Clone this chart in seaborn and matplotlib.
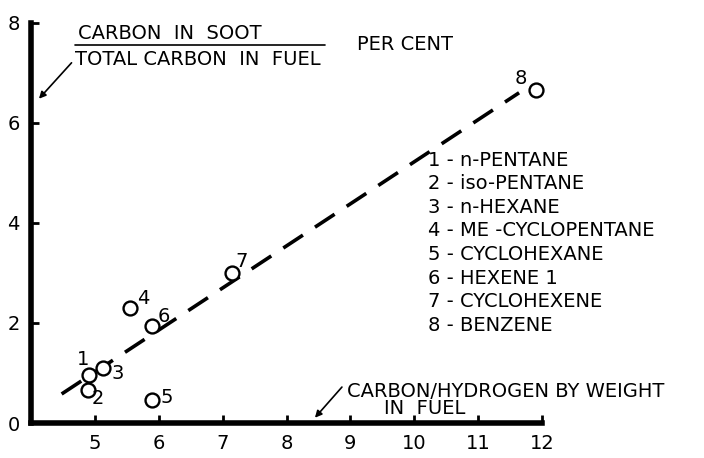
import numpy as np
import pandas as pd
import matplotlib
matplotlib.use("Agg")
import matplotlib.pyplot as plt
import seaborn as sns

# ==========================================
# data
# ==========================================
fuel_id = [1, 2, 3, 4, 5, 6, 7, 8]
fuel_name = ["n-PENTANE", "iso-PENTANE", "n-HEXANE", "ME -CYCLOPENTANE",
             "CYCLOHEXANE", "HEXENE 1", "CYCLOHEXENE", "BENZENE"]
c_to_h = [4.91, 4.90, 5.12, 5.55, 5.90, 5.90, 7.14, 11.90]
soot_pct = [0.96, 0.66, 1.10, 2.30, 0.46, 1.94, 3.00, 6.65]

# dashed trend line (end points)
trend_x = [4.48, 11.64]
trend_y = [0.58, 6.60]

x_ticks = [5, 6, 7, 8, 9, 10, 11, 12]
y_ticks = [0, 2, 4, 6, 8]

df = pd.DataFrame({"id": fuel_id, "name": fuel_name, "ch": c_to_h, "soot": soot_pct})
trend = pd.DataFrame({"x": trend_x, "y": trend_y})

# ==========================================
# plot
# ==========================================
sns.set_style("ticks", {"axes.edgecolor": "black", "text.color": "black",
                        "xtick.color": "black", "ytick.color": "black"})
plt.rcParams["font.family"] = ["DejaVu Sans"]

fig = plt.figure(figsize=(7.04, 4.58), dpi=100)
ax = fig.add_axes([0.044, 0.0764, 0.726, 0.874])

sns.lineplot(data=trend, x="x", y="y", ax=ax, color="black", lw=2.6,
             dashes=False, linestyle=(0, (6.5, 4)))
sns.scatterplot(data=df, x="ch", y="soot", ax=ax, marker="o", s=100,
                facecolor="white", edgecolor="black", linewidth=1.7,
                zorder=3, clip_on=False)

# numbers beside each point
offsets = {1: (-6, 15), 2: (9, -9), 3: (15, -6), 4: (13, 9),
           5: (14, 2), 6: (11, 9), 7: (10, 11), 8: (-15, 12)}
for _, r in df.iterrows():
    dx, dy = offsets[r["id"]]
    ax.annotate(str(r["id"]), (r["ch"], r["soot"]), xytext=(dx, dy),
                textcoords="offset pixels", ha="center", va="center",
                fontsize=14)

ax.set_xlim(4, 12)
ax.set_ylim(0, 8)
ax.set_xticks(x_ticks)
ax.set_yticks(y_ticks)
ax.set_xlabel("")
ax.set_ylabel("")
ax.tick_params(direction="in", length=6, width=2, labelsize=14, pad=8)
for s in ["top", "right"]:
    ax.spines[s].set_visible(False)
for s in ["left", "bottom"]:
    ax.spines[s].set_linewidth(4)

# y-axis label as a fraction
ax.text(0.092, 0.974, "CARBON  IN  SOOT", transform=ax.transAxes, fontsize=14,
        va="center")
ax.plot([0.086, 0.575], [0.945, 0.945], transform=ax.transAxes,
        color="black", lw=1.2, clip_on=False)
ax.text(0.086, 0.908, "TOTAL CARBON  IN  FUEL", transform=ax.transAxes,
        fontsize=14, va="center")
ax.text(0.638, 0.945, "PER CENT", transform=ax.transAxes, fontsize=14,
        va="center")
ax.annotate("", xy=(0.012, 0.805), xytext=(0.083, 0.905), xycoords="axes fraction",
            arrowprops=dict(arrowstyle="-|>", color="black", lw=1.2))

# x-axis label
ax.text(0.618, 0.078, "CARBON/HYDROGEN BY WEIGHT", transform=ax.transAxes,
        fontsize=14, va="center")
ax.text(0.69, 0.035, "IN  FUEL", transform=ax.transAxes, fontsize=14, va="center")
ax.annotate("", xy=(0.552, 0.008), xytext=(0.612, 0.095), xycoords="axes fraction",
            arrowprops=dict(arrowstyle="-|>", color="black", lw=1.2))

# list of fuels
for i, r in df.iterrows():
    ax.text(0.777, 0.657 - i * 0.059, f"{r['id']} - {r['name']}",
            transform=ax.transAxes, fontsize=14, va="center")

fig.savefig("out.png", dpi=100)
